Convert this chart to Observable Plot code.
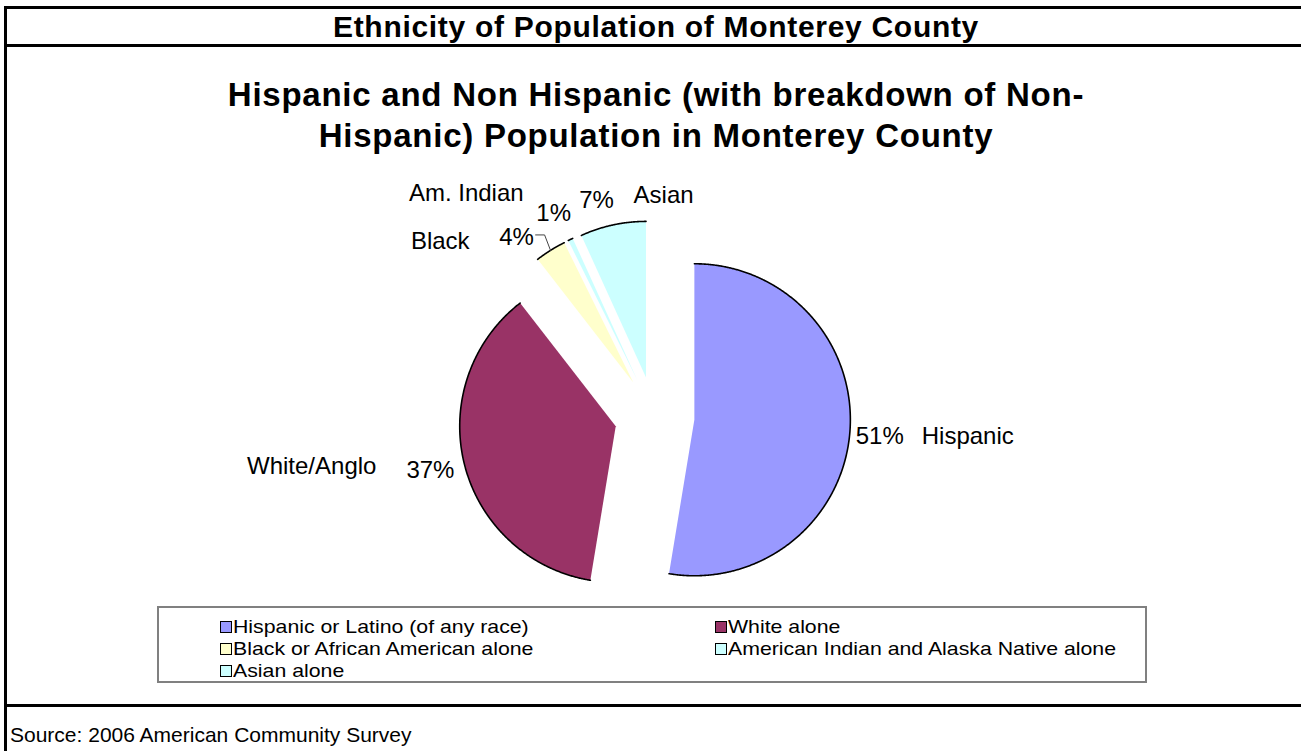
<!DOCTYPE html>
<html>
<head>
<meta charset="utf-8">
<script src="https://cdn.jsdelivr.net/npm/d3@7"></script>
<script src="https://cdn.jsdelivr.net/npm/@observablehq/plot@0.6"></script>
<style>
  html, body { margin: 0; padding: 0; background: #fff; width: 1301px; height: 751px; overflow: hidden; }
  body { position: relative; font-family: "Liberation Sans", Arial, sans-serif; color: #000; }
  .abs { position: absolute; }
  #frame { left: 4px; top: 6px; width: 1400px; height: 900px; border-left: 3px solid #000; border-top: 3px solid #000; }
  .hline { left: 4px; width: 1400px; height: 3px; background: #000; }
  #header { left: 6px; width: 1300px; top: 8px; height: 37px; display: flex; align-items: center; justify-content: center;
            font-weight: bold; font-size: 30px; letter-spacing: 0.7px; white-space: nowrap; }
  #subtitle { left: 6px; width: 1300px; top: 74px; text-align: center; font-weight: bold; font-size: 33px;
              line-height: 41px; letter-spacing: 0.75px; white-space: nowrap; }
  #legend { left: 157px; top: 606px; width: 990px; height: 77px; box-sizing: border-box; border: 2px solid #808080; }
  .item { position: absolute; display: flex; align-items: center; font-size: 19px; line-height: 20px; white-space: nowrap; height: 20px; }
  .item span { line-height: 20px; display: inline-block; transform: scaleX(1.12); transform-origin: 0 50%; }
  .sw { width: 10px; height: 10px; border: 1px solid #000; margin-right: 1px; }
  #source { left: 10px; top: 723px; font-size: 21px; line-height: 24px; white-space: nowrap; }
  #chart { left: 0; top: 0; }
</style>
</head>
<body>
<div id="chart" class="abs"></div>
<div id="frame" class="abs"></div>
<div class="abs hline" style="top:44px"></div>
<div class="abs hline" style="top:704px"></div>
<div id="header" class="abs"></div>
<div id="subtitle" class="abs"></div>
<div id="legend" class="abs"></div>
<div id="source" class="abs"></div>
<script>
// ---- data ----
const headerTitle = "Ethnicity of Population of Monterey County";
const chartTitleLines = ["Hispanic and Non Hispanic (with breakdown of Non-", "Hispanic) Population in Monterey County"];
const sourceNote = "Source: 2006 American Community Survey";
const categories = ["Hispanic or Latino (of any race)", "White alone", "Black or African American alone",
                    "American Indian and Alaska Native alone", "Asian alone"];
const shortNames = ["Hispanic", "White/Anglo", "Black", "Am. Indian", "Asian"];
const shares = [52.6, 36.9, 3.2, 0.5, 6.8];          // slice sizes as drawn
const pctLabels = ["51%", "37%", "4%", "1%", "7%"];  // labels as printed
const colors = ["#9999FF", "#993366", "#FFFFCC", "#CCFFFF", "#CCFFFF"];

// ---- layout / style (not data) ----
const W = 1301, H = 751;
const CX = 654, CY = 416, R = 156, EXPLODE = 40, LABEL_GAP = 30;
// per-label nudges (as placed in the original chart)
const pctNudge = [[0, 1], [-5, -2], [-18, 12], [-4, 1], [-10, 5]];
const nameOffset = [[42, 0, "start"], [-54, -4, "end"], [-47, 4, "end"], [-30, -20, "end"], [37, -5, "start"]];

document.getElementById("header").textContent = headerTitle;
document.getElementById("subtitle").innerHTML = chartTitleLines.join("<br>");
document.getElementById("source").textContent = sourceNote;

// legend
const legend = document.getElementById("legend");
categories.forEach((c, i) => {
  const col = i % 2, row = Math.floor(i / 2);
  const el = document.createElement("div");
  el.className = "item";
  el.style.left = (col === 0 ? 61 : 556) + "px";
  el.style.top = (9 + row * 22) + "px";
  el.innerHTML = `<div class="sw" style="background:${colors[i]}"></div><span>${c}</span>`;
  legend.appendChild(el);
});

// pie geometry through d3.pie
const arcs = d3.pie().sort(null).startAngle(0).endAngle(2 * Math.PI)(shares);
const polys = [], arcLines = [], pcts = [], names = [], leader = [];
arcs.forEach((a, i) => {
  const mid = (a.startAngle + a.endAngle) / 2;
  const ux = Math.sin(mid), uy = -Math.cos(mid);
  const cx = CX + EXPLODE * ux, cy = CY + EXPLODE * uy;
  const n = Math.max(2, Math.ceil((a.endAngle - a.startAngle) / 0.005));
  polys.push({cat: categories[i], x: cx, y: cy});
  for (let k = 0; k <= n; k++) {
    const t = a.startAngle + (a.endAngle - a.startAngle) * k / n;
    const p = {cat: categories[i], x: cx + R * Math.sin(t), y: cy - R * Math.cos(t)};
    polys.push(p);
    arcLines.push(p);
  }
  polys.push({cat: categories[i], x: cx, y: cy});
  const px = cx + (R + LABEL_GAP) * ux + pctNudge[i][0];
  const py = cy + (R + LABEL_GAP) * uy + pctNudge[i][1];
  pcts.push({x: px, y: py, text: pctLabels[i]});
  names.push({x: px + nameOffset[i][0], y: py + nameOffset[i][1], text: shortNames[i], anchor: nameOffset[i][2]});
  if (i === 2) {
    // leader line from the "4%" label to its slice
    leader.push({x: px + 19, y: py - 2}, {x: px + 28, y: py - 2}, {x: cx + R * ux, y: cy + R * uy});
  }
});

const plot = Plot.plot({
  width: W, height: H,
  margin: 0,
  x: {domain: [0, W], range: [0, W], axis: null},
  y: {domain: [0, H], range: [0, H], axis: null},
  color: {type: "ordinal", domain: categories, range: colors},
  style: {background: "transparent", fontFamily: "'Liberation Sans', Arial, sans-serif", overflow: "visible"},
  marks: [
    Plot.line(polys, {x: "x", y: "y", z: "cat", fill: "cat", stroke: null, curve: "linear-closed"}),
    Plot.line(arcLines, {x: "x", y: "y", z: "cat", stroke: "#000", strokeWidth: 1.6}),
    Plot.line(leader, {x: "x", y: "y", stroke: "#444", strokeWidth: 1}),
    Plot.text(pcts, {x: "x", y: "y", text: "text", fontSize: 24, fill: "#000"}),
    Plot.text(names.filter(d => d.anchor === "start"), {x: "x", y: "y", text: "text", fontSize: 24, textAnchor: "start", fill: "#000"}),
    Plot.text(names.filter(d => d.anchor === "end"), {x: "x", y: "y", text: "text", fontSize: 24, textAnchor: "end", fill: "#000"})
  ]
});
document.getElementById("chart").appendChild(plot);
</script>
</body>
</html>
